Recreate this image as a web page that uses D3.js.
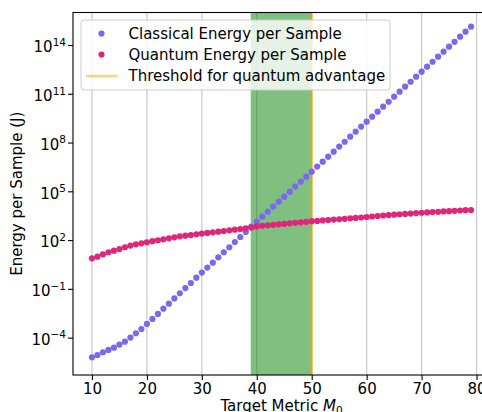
<!DOCTYPE html>
<html>
<head>
<meta charset="utf-8">
<script src="https://cdn.jsdelivr.net/npm/d3@7"></script>
<style>
  html, body { margin: 0; padding: 0; background: #fff; }
  svg { display: block; }
  text { font-family: "DejaVu Sans", sans-serif; fill: #000; }
</style>
</head>
<body>
<svg id="chart" width="482" height="412"></svg>
<script>
// ---- data ----
const targetMetric = [10,11,12,13,14,15,16,17,18,19,20,21,22,23,24,25,26,27,28,29,
  30,31,32,33,34,35,36,37,38,39,40,41,42,43,44,45,46,47,48,49,
  50,51,52,53,54,55,56,57,58,59,60,61,62,63,64,65,66,67,68,69,
  70,71,72,73,74,75,76,77,78,79];

const classicalEnergy = [6.17e-6,8.51e-6,1.26e-5,1.74e-5,2.40e-5,3.72e-5,5.62e-5,1.00e-4,1.86e-4,3.39e-4,
  6.92e-4,1.41e-3,2.88e-3,6.03e-3,1.23e-2,2.57e-2,5.37e-2,1.12e-1,2.29e-1,4.90e-1,
  1.00,2.04,4.07,8.71,17.8,36.3,75.9,155,316,676,
  1350,2750,5620,1.15e4,2.29e4,4.68e4,9.55e4,1.95e5,3.89e5,7.94e5,
  1.62e6,3.31e6,6.61e6,1.35e7,2.75e7,5.62e7,1.12e8,2.29e8,4.68e8,9.55e8,
  1.91e9,3.89e9,7.94e9,1.62e10,3.24e10,6.61e10,1.35e11,2.75e11,5.50e11,1.12e12,
  2.29e12,4.68e12,9.33e12,1.91e13,3.89e13,7.94e13,1.58e14,3.24e14,6.61e14,1.35e15];

const quantumEnergy = [7.59,9.55,13.2,17.8,22.4,28.2,36.3,45.7,55.0,63.1,
  72.4,85.1,97.7,112,129,148,170,186,204,229,
  251,275,302,331,363,398,437,479,525,589,
  692,759,813,871,933,1000,1070,1150,1230,1320,
  1450,1510,1620,1700,1820,1910,2040,2190,2290,2450,
  2630,2820,3020,3240,3470,3630,3890,4070,4270,4570,
  4790,5010,5250,5500,5750,6030,6310,6610,6920,7080];

const advantageStart = 38.9;   // crossing of the two series
const threshold = 50;          // threshold for quantum advantage

const xTicks = [10,20,30,40,50,60,70,80];
const yTickExponents = [-4,-1,2,5,8,11,14];

const legendLabels = ["Classical Energy per Sample", "Quantum Energy per Sample", "Threshold for quantum advantage"];

// ---- layout ----
const svg = d3.select("#chart");
const plot = { left: 73, right: 490, top: 12.5, bottom: 375 };

const x = d3.scaleLinear().domain([6.55, 82.45]).range([plot.left, plot.right]);
const y = d3.scaleLog().domain([Math.pow(10, -6.3), Math.pow(10, 16)]).range([plot.bottom, plot.top]);

const fontSize = 15;
const colClassical = "#7b68ee";
const colQuantum = "#e0267b";
const markerR = 3.1;

svg.append("defs").append("clipPath").attr("id", "clip")
  .append("rect").attr("x", plot.left).attr("y", plot.top)
  .attr("width", plot.right - plot.left).attr("height", plot.bottom - plot.top);

const g = svg.append("g").attr("clip-path", "url(#clip)");

// vertical grid
g.selectAll("line.grid").data(xTicks).enter().append("line")
  .attr("class", "grid")
  .attr("x1", d => x(d)).attr("x2", d => x(d))
  .attr("y1", plot.top).attr("y2", plot.bottom)
  .attr("stroke", "#b0b0b0").attr("stroke-opacity", 0.7).attr("stroke-width", 1.2);

// advantage band
g.append("rect")
  .attr("x", x(advantageStart)).attr("y", plot.top)
  .attr("width", x(threshold) - x(advantageStart)).attr("height", plot.bottom - plot.top)
  .attr("fill", "green").attr("fill-opacity", 0.5);

// threshold line
g.append("line")
  .attr("x1", x(threshold)).attr("x2", x(threshold))
  .attr("y1", plot.top).attr("y2", plot.bottom)
  .attr("stroke", "orange").attr("stroke-opacity", 0.55).attr("stroke-width", 2.5);

const classical = targetMetric.map((m, i) => ({ m, v: classicalEnergy[i] }));
const quantum = targetMetric.map((m, i) => ({ m, v: quantumEnergy[i] }));

g.selectAll("circle.cl").data(classical).enter().append("circle")
  .attr("class", "cl")
  .attr("cx", d => x(d.m)).attr("cy", d => y(d.v)).attr("r", markerR)
  .attr("fill", colClassical);

g.selectAll("circle.qu").data(quantum).enter().append("circle")
  .attr("class", "qu")
  .attr("cx", d => x(d.m)).attr("cy", d => y(d.v)).attr("r", markerR)
  .attr("fill", colQuantum);

// axes
const xAxis = d3.axisBottom(x).tickValues(xTicks).tickSize(5).tickPadding(3).tickFormat(d3.format("d"));
const gx = svg.append("g").attr("transform", `translate(0,${plot.bottom})`).call(xAxis);
gx.select(".domain").remove();
gx.selectAll(".tick line").attr("stroke", "#000").attr("stroke-width", 1.1);
gx.selectAll(".tick text").attr("font-size", fontSize).attr("font-family", "DejaVu Sans");

const yAxis = d3.axisLeft(y).tickValues(yTickExponents.map(e => Math.pow(10, e))).tickSize(5).tickPadding(5).tickFormat("");
const gy = svg.append("g").attr("transform", `translate(${plot.left},0)`).call(yAxis);
gy.select(".domain").remove();
gy.selectAll(".tick line").attr("stroke", "#000").attr("stroke-width", 1.1);
gy.selectAll(".tick").each(function(d, i) {
  const t = d3.select(this).select("text")
    .attr("font-size", fontSize).attr("font-family", "DejaVu Sans")
    .attr("x", -7).attr("dy", "0.45em").attr("text-anchor", "end");
  t.text(null);
  t.append("tspan").text("10");
  t.append("tspan").attr("font-size", fontSize * 0.7).attr("dy", -6.5)
    .text(String(yTickExponents[i]).replace("-", "\u2212"));
});

// spines
const sp = svg.append("g").attr("stroke", "#000").attr("stroke-width", 1.1).attr("fill", "none");
sp.append("rect").attr("x", plot.left).attr("y", plot.top)
  .attr("width", plot.right - plot.left).attr("height", plot.bottom - plot.top);

// axis labels
svg.append("text")
  .attr("transform", `translate(22,${(plot.top + plot.bottom) / 2}) rotate(-90)`)
  .attr("text-anchor", "middle").attr("font-size", fontSize)
  .text("Energy per Sample (J)");

const xl = svg.append("text")
  .attr("x", (plot.left + plot.right) / 2).attr("y", 411)
  .attr("text-anchor", "middle").attr("font-size", fontSize);
xl.append("tspan").text("Target Metric ");
xl.append("tspan").attr("font-style", "italic").text("M");
xl.append("tspan").attr("font-size", fontSize * 0.7).attr("dy", 3).text("0");

// legend
const lg = svg.append("g");
lg.append("rect").attr("x", 81).attr("y", 20).attr("width", 309).attr("height", 70).attr("rx", 3)
  .attr("fill", "#fff").attr("fill-opacity", 0.8).attr("stroke", "#cccccc").attr("stroke-width", 1);
const rows = [33.5, 54.5, 76];
lg.append("circle").attr("cx", 101.5).attr("cy", rows[0]).attr("r", markerR).attr("fill", colClassical);
lg.append("circle").attr("cx", 101.5).attr("cy", rows[1]).attr("r", markerR).attr("fill", colQuantum);
lg.append("line").attr("x1", 86).attr("x2", 117.5).attr("y1", rows[2]).attr("y2", rows[2])
  .attr("stroke", "orange").attr("stroke-opacity", 0.5).attr("stroke-width", 2.5);
lg.selectAll("text.lt").data(legendLabels).enter().append("text")
  .attr("class", "lt")
  .attr("x", 128.5).attr("y", (d, i) => rows[i]).attr("dy", "0.36em")
  .attr("font-size", fontSize).text(d => d);
</script>
</body>
</html>
